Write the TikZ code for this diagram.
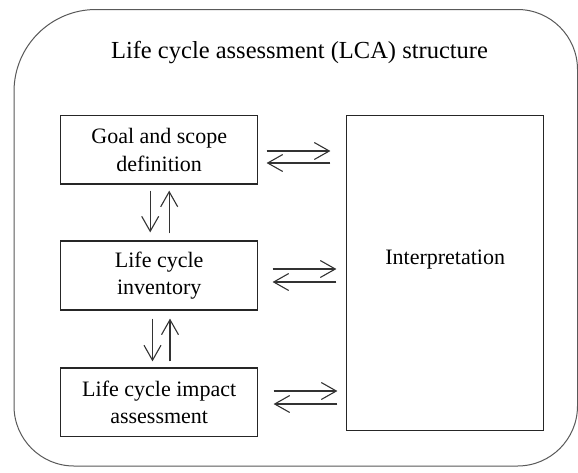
\documentclass[tikz,border=0pt]{standalone}
\usepackage{fontspec}
\setmainfont{Liberation Serif}[Ligatures=TeX]
\newfontfamily\labelfont{Liberation Serif}[Scale=1.0]
\usetikzlibrary{arrows.meta,calc}
\begin{document}
\begin{tikzpicture}[x=1pt,y=-1pt,
  stage/.style={draw=black!85, line width=1.2pt, inner sep=0pt, align=center,
    minimum width=197pt, font=\labelfont\fontsize{22}{27.5}\selectfont},
  caption/.style={font=\labelfont\fontsize{22}{27.5}\selectfont, inner sep=0pt, anchor=base},
  flow/.style={draw=black!80, line width=1.1pt,
    -{Straight Barb[length=15pt,width=17pt,line width=1.1pt]}},
  frame/.style={draw=black!65, line width=1pt},
]
\useasboundingbox (0,0) rectangle (578,472);
\fill[white] (0,0) rectangle (578,472);

% rounded outer frame
\draw[frame] (300,9.5) [rounded corners=60pt] -- (577.5,9.5) -- (577.5,466)
  -- (14,466) -- (14,240) [rounded corners=82pt] -- (14,9.5) -- cycle;

\node[font=\labelfont\fontsize{24.5}{29}\selectfont, inner sep=0pt, anchor=base] (title)
  at (299.5,58) {Life cycle assessment (LCA) structure};

% the three phases on the left
\node[stage, minimum height=68.3pt] (goal) at (159.2,149.9) {Goal and scope\\definition};
\node[stage, minimum height=69pt]   (lci)  at (159.2,275.5) {Life cycle\\inventory};
\node[stage, minimum height=68.7pt] (lcia) at (159.2,402.3) {Life cycle impact\\assessment};

% interpretation box on the right
\node[stage, minimum height=315pt] (interp) at (445.2,273.2) {};
\node[caption] (interptext) at (445.2,264) {Interpretation};

% vertical exchanges between phases
\draw[flow] ($(goal.south)+(-9,6)$) -- ($(lci.north)+(-9,-8)$);
\draw[flow] ($(lci.north)+(10,-7)$) -- ($(goal.south)+(10,6)$);
\draw[flow] ($(lci.south)+(-6.7,8)$) -- ($(lcia.north)+(-6.7,-6)$);
\draw[flow] ($(lcia.north)+(10.8,-6)$) -- ($(lci.south)+(10.8,8)$);

% horizontal exchanges with interpretation
\draw[flow] ($(goal.east)+(8.3,1.1)$) -- ($(interp.west|-goal.east)+(-15.7,1.1)$);
\draw[flow] ($(interp.west|-goal.east)+(-15.7,13.1)$) -- ($(goal.east)+(8.3,13.1)$);
\draw[flow] ($(lci.east)+(14.3,-6.5)$) -- ($(interp.west|-lci.east)+(-9.7,-6.5)$);
\draw[flow] ($(interp.west|-lci.east)+(-9.7,6.5)$) -- ($(lci.east)+(14.3,6.5)$);
\draw[flow] ($(lcia.east)+(15.3,-11.3)$) -- ($(interp.west|-lcia.east)+(-8.7,-11.3)$);
\draw[flow] ($(interp.west|-lcia.east)+(-8.7,1.7)$) -- ($(lcia.east)+(15.3,1.7)$);
\end{tikzpicture}
\end{document}
